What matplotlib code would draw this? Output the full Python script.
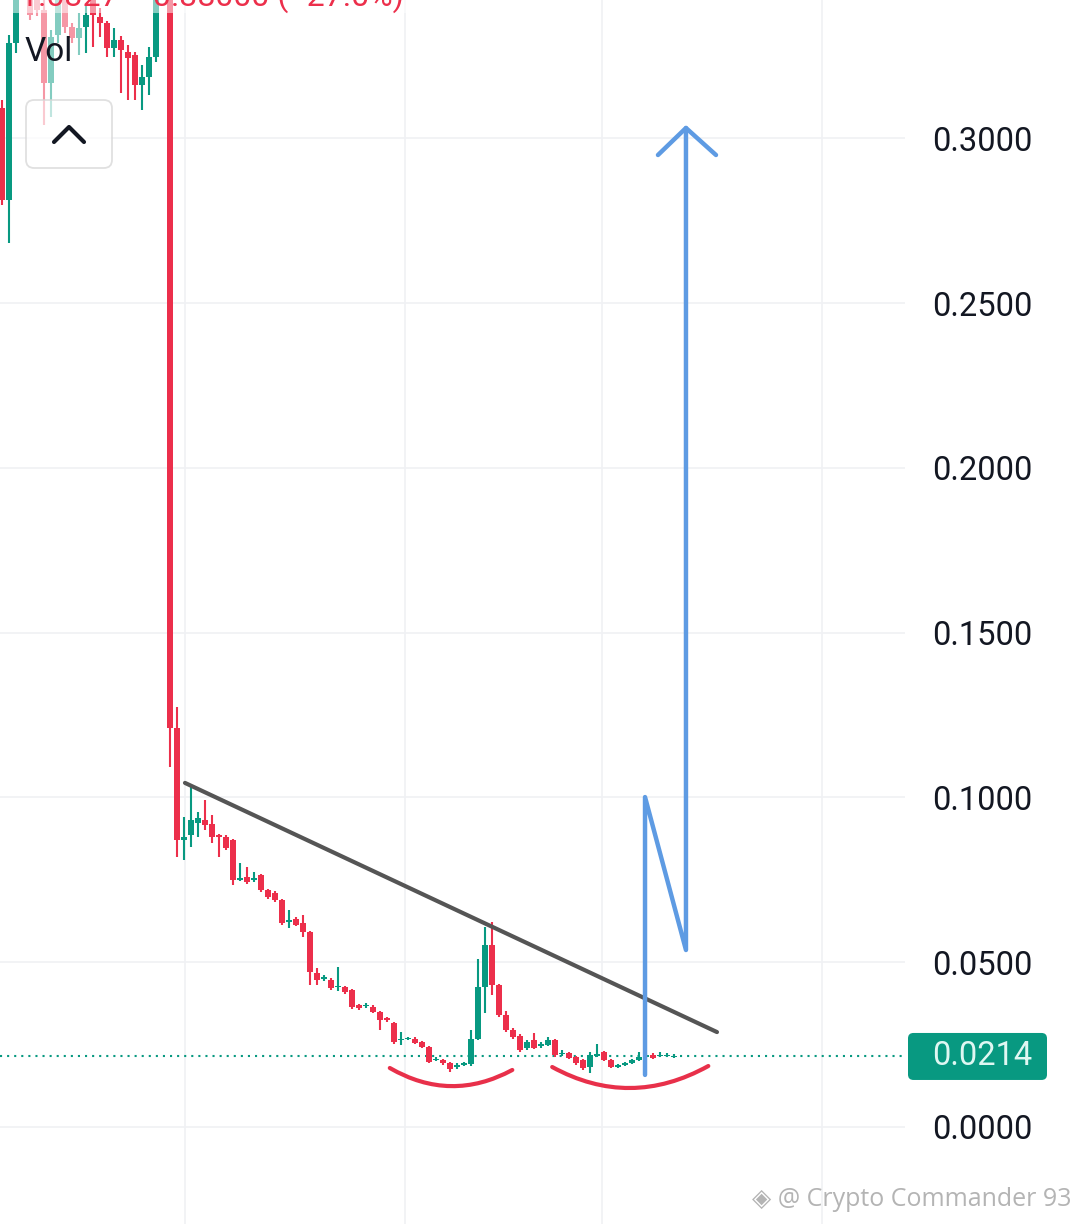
import numpy as np
import matplotlib.pyplot as plt
from matplotlib.patches import Rectangle, FancyBboxPatch, PathPatch
from matplotlib.path import Path
from matplotlib.transforms import blended_transform_factory

plt.rcParams['font.family'] = ['Roboto', 'DejaVu Sans']

# candle data (one entry per candle, oldest first)
opens = [0.3092, 0.2813, 0.3289, 0.3560, 0.3450, 0.3440, 0.3389, 0.3168, 0.3313, 0.3430,
         0.3337, 0.3304, 0.3337, 0.3440, 0.3368, 0.3350, 0.3274, 0.3298, 0.3262, 0.3252,
         0.3161, 0.3186, 0.3246, 0.3440, 0.3600,
         0.1211, 0.0871, 0.0886, 0.0922, 0.0931, 0.0919, 0.0886, 0.0880, 0.0871, 0.0749,
         0.0758, 0.0749, 0.0765, 0.0719, 0.0710, 0.0689, 0.0622, 0.0631, 0.0619, 0.0592,
         0.0467, 0.0449, 0.0446, 0.0425, 0.0425, 0.0416, 0.0370, 0.0367, 0.0364, 0.0349,
         0.0331, 0.0316, 0.0264, 0.0267, 0.0267, 0.0258, 0.0243, 0.0203, 0.0203, 0.0194,
         0.0182, 0.0188, 0.0191, 0.0267, 0.0425, 0.0552, 0.0431, 0.0340, 0.0294, 0.0276,
         0.0240, 0.0264, 0.0246, 0.0249, 0.0264, 0.0221, 0.0225, 0.0212, 0.0203, 0.0182,
         0.0215, 0.0228, 0.0203, 0.0182, 0.0188, 0.0194, 0.0203, 0.0212, 0.0218, 0.0215,
         0.0215, 0.0212]
highs = [0.3116, 0.3313, 0.3550, 0.3600, 0.3480, 0.3470, 0.3420, 0.3328, 0.3460, 0.3450,
         0.3350, 0.3380, 0.3404, 0.3470, 0.3395, 0.3355, 0.3334, 0.3310, 0.3283, 0.3262,
         0.3222, 0.3277, 0.3480, 0.3650, 0.3650,
         0.1274, 0.0941, 0.1032, 0.0955, 0.0992, 0.0947, 0.0889, 0.0886, 0.0874, 0.0801,
         0.0789, 0.0774, 0.0768, 0.0722, 0.0716, 0.0692, 0.0658, 0.0637, 0.0643, 0.0595,
         0.0482, 0.0461, 0.0452, 0.0485, 0.0428, 0.0419, 0.0373, 0.0376, 0.0370, 0.0352,
         0.0334, 0.0319, 0.0288, 0.0273, 0.0273, 0.0261, 0.0246, 0.0212, 0.0206, 0.0197,
         0.0194, 0.0197, 0.0294, 0.0510, 0.0607, 0.0622, 0.0434, 0.0352, 0.0300, 0.0282,
         0.0264, 0.0285, 0.0258, 0.0273, 0.0267, 0.0234, 0.0228, 0.0215, 0.0206, 0.0228,
         0.0252, 0.0231, 0.0206, 0.0191, 0.0197, 0.0206, 0.0228, 0.0225, 0.0225, 0.0228,
         0.0225, 0.0221]
lows = [0.2798, 0.2682, 0.3260, 0.3440, 0.3360, 0.3370, 0.3040, 0.3064, 0.3290, 0.3320,
        0.3290, 0.3252, 0.3258, 0.3277, 0.3307, 0.3246, 0.3246, 0.3137, 0.3116, 0.3116,
        0.3086, 0.3131, 0.3230, 0.3430, 0.1092,
        0.0819, 0.0810, 0.0850, 0.0880, 0.0901, 0.0862, 0.0819, 0.0840, 0.0734, 0.0746,
        0.0737, 0.0743, 0.0713, 0.0692, 0.0683, 0.0613, 0.0604, 0.0610, 0.0576, 0.0431,
        0.0431, 0.0443, 0.0416, 0.0413, 0.0404, 0.0358, 0.0355, 0.0361, 0.0346, 0.0294,
        0.0319, 0.0252, 0.0249, 0.0264, 0.0252, 0.0240, 0.0194, 0.0200, 0.0188, 0.0167,
        0.0176, 0.0185, 0.0185, 0.0264, 0.0346, 0.0400, 0.0334, 0.0288, 0.0267, 0.0228,
        0.0234, 0.0237, 0.0240, 0.0246, 0.0212, 0.0215, 0.0206, 0.0188, 0.0173, 0.0164,
        0.0212, 0.0200, 0.0179, 0.0179, 0.0185, 0.0191, 0.0200, 0.0209, 0.0206, 0.0212,
        0.0212, 0.0210]
closes = [0.2813, 0.3289, 0.3480, 0.3480, 0.3374, 0.3390, 0.3168, 0.3307, 0.3430, 0.3337,
          0.3304, 0.3334, 0.3374, 0.3374, 0.3350, 0.3274, 0.3298, 0.3268, 0.3243, 0.3161,
          0.3186, 0.3246, 0.3440, 0.3600, 0.1211,
          0.0871, 0.0880, 0.0931, 0.0937, 0.0916, 0.0880, 0.0880, 0.0846, 0.0749, 0.0755,
          0.0743, 0.0755, 0.0719, 0.0698, 0.0689, 0.0619, 0.0628, 0.0613, 0.0592, 0.0470,
          0.0446, 0.0455, 0.0422, 0.0428, 0.0410, 0.0364, 0.0361, 0.0370, 0.0349, 0.0325,
          0.0325, 0.0258, 0.0267, 0.0270, 0.0255, 0.0243, 0.0197, 0.0206, 0.0194, 0.0176,
          0.0188, 0.0194, 0.0267, 0.0425, 0.0552, 0.0431, 0.0340, 0.0294, 0.0273, 0.0234,
          0.0258, 0.0240, 0.0252, 0.0264, 0.0218, 0.0225, 0.0209, 0.0194, 0.0179, 0.0218,
          0.0221, 0.0203, 0.0182, 0.0188, 0.0194, 0.0203, 0.0212, 0.0218, 0.0209, 0.0218,
          0.0218, 0.0214]
last_price = 0.0214

price_ticks = [0.0, 0.05, 0.10, 0.15, 0.20, 0.25, 0.30]
grid_x = [26.14, 57.57, 85.71, 117.14]

# drawings on top of the chart
trend_x = [26.14, 102.14]
trend_y = [0.1044, 0.0288]
path_x = [91.86, 91.86, 97.71, 97.71]
path_y = [0.0158, 0.1001, 0.0537, 0.3031]
head_x = [93.71, 97.71, 102.0]
head_y = [0.2949, 0.3031, 0.2949]
cups = [[(55.4, 0.0179), (64.1, 0.0072), (72.9, 0.0173)],
        [(78.6, 0.0182), (89.7, 0.0053), (100.9, 0.0185)]]

RED = '#EC2F4B'
GREEN = '#089981'

W, H = 1080, 1224
fig = plt.figure(figsize=(W / 100, H / 100), dpi=100)
AXW = 905
ax = fig.add_axes([0, 0, AXW / W, 1])

idx = np.arange(len(opens))
o = np.array(opens); c = np.array(closes)
cols = [GREEN if cc >= oo else RED for oo, cc in zip(o, c)]
bottoms = np.minimum(o, c)
heights = np.maximum(np.abs(c - o), 0.0004)
ax.vlines(idx, lows, highs, colors=cols, lw=1.5, zorder=2)
ax.bar(idx, heights, bottom=bottoms, width=0.82, color=cols, zorder=3)

ax.set_xlim(-0.2857, 129.0)
ax.set_ylim(-0.02943, 0.34193)

ax.set_yticks(price_ticks)
ax.set_yticklabels(['%.4f' % t for t in price_ticks])
ax.yaxis.tick_right()
ax.tick_params(axis='y', length=0, pad=19.5, labelsize=23.5, labelcolor='#131722')
ax.set_xticks(grid_x)
ax.set_xticklabels([])
ax.tick_params(axis='x', length=0)
ax.grid(True, color='#f0f1f4', lw=1.2, zorder=0)
ax.set_axisbelow(True)
for s in ax.spines.values():
    s.set_visible(False)

# last price line + label
ax.axhline(last_price, color=GREEN, ls=(0, (1, 2.4)), lw=1.5, zorder=1)
tr = blended_transform_factory(ax.transAxes, ax.transData)
box = FancyBboxPatch((908 / AXW, last_price - 0.00713), 139 / AXW, 0.01426,
                     boxstyle='round,pad=0,rounding_size=0.006', mutation_aspect=0.2746,
                     transform=tr, facecolor=GREEN, edgecolor='none', clip_on=False, zorder=5)
ax.add_patch(box)
ax.text(932 / AXW, last_price, '%.4f' % last_price, transform=tr, ha='left', va='center',
        fontsize=23.5, color='#dff7f2', clip_on=False, zorder=6)

# faded overlays from the legend area
ax.add_patch(Rectangle((25 / AXW, 1 - 100 / H), 58 / AXW, 100 / H, transform=ax.transAxes,
                       facecolor='white', alpha=0.5, edgecolor='none', zorder=4))
ax.add_patch(Rectangle((0, 1 - 13 / H), 450 / AXW, 13 / H, transform=ax.transAxes,
                       facecolor='white', alpha=0.5, edgecolor='none', zorder=4))
ax.text(25 / AXW, 1 - 52 / H, 'Vol', transform=ax.transAxes, ha='left', va='center',
        fontsize=24, color='#131722', zorder=6)
ax.add_patch(FancyBboxPatch((26 / AXW, 1 - 168 / H), 86 / AXW, 68 / H,
                            boxstyle='round,pad=0,rounding_size=0.009', mutation_aspect=0.739,
                            transform=ax.transAxes, facecolor='white', alpha=0.75,
                            edgecolor='#d6d6d6', lw=1.3, zorder=4))
ax.plot([54 / AXW, 69 / AXW, 84 / AXW], [1 - 142 / H, 1 - 127 / H, 1 - 142 / H],
        transform=ax.transAxes, color='#131722', lw=3, solid_capstyle='round', zorder=6)

# hand drawings
ax.plot(trend_x, trend_y, color='#555555', lw=3, solid_capstyle='round', zorder=7)
ax.plot(path_x, path_y, color='#5E9BE3', lw=3.2, solid_capstyle='round',
        solid_joinstyle='round', zorder=7)
ax.plot(head_x, head_y, color='#5E9BE3', lw=3.2, solid_capstyle='round',
        solid_joinstyle='round', zorder=7)
for pts in cups:
    p = Path(pts, [Path.MOVETO, Path.CURVE3, Path.CURVE3])
    ax.add_patch(PathPatch(p, facecolor='none', edgecolor='#E8304A', lw=3,
                           capstyle='round', zorder=7))

# clipped header text (cut off at the top edge, as in the screenshot) and watermark
fig.text(20 / W, 1 - 6 / H, '1.0327  \u22120.38000 (\u221227.0%)', ha='left', va='baseline',
         fontsize=23, color=RED)
fig.text(1072 / W, 1 - 1199 / H, '\u25c8 @ Crypto Commander 93', ha='right', va='center',
         fontsize=18, color='#b4b4b4', family=['Open Sans', 'DejaVu Sans'])

fig.savefig('out.png', dpi=100, facecolor='white')
